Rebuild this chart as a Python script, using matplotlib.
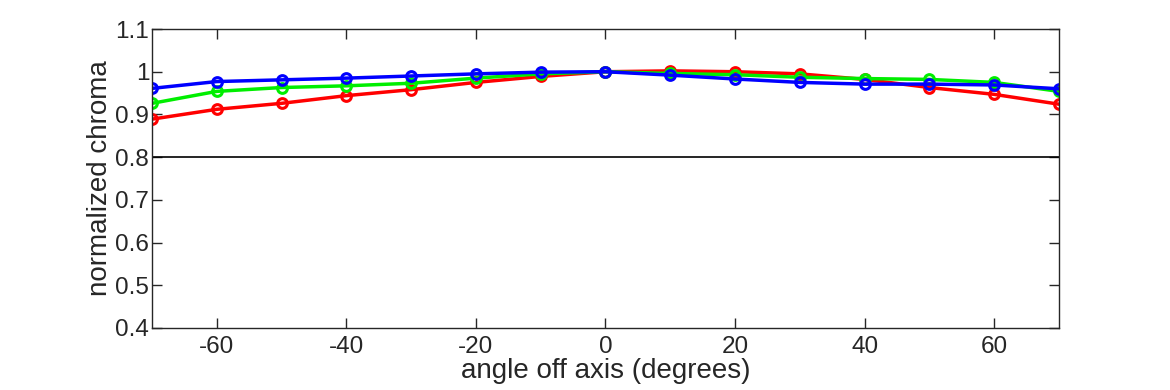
import matplotlib
matplotlib.use("Agg")
import matplotlib.pyplot as plt

angles = [-70, -60, -50, -40, -30, -20, -10, 0, 10, 20, 30, 40, 50, 60, 70]
red = [0.889, 0.912, 0.926, 0.944, 0.958, 0.975, 0.989, 1.0, 1.002, 1.0, 0.995, 0.982, 0.963, 0.947, 0.924]
green = [0.926, 0.954, 0.963, 0.967, 0.973, 0.985, 0.995, 1.0, 0.996, 0.993, 0.987, 0.984, 0.982, 0.975, 0.954]
blue = [0.961, 0.977, 0.981, 0.985, 0.990, 0.995, 0.999, 1.0, 0.992, 0.983, 0.975, 0.971, 0.971, 0.969, 0.960]
xticks = [-60, -40, -20, 0, 20, 40, 60]
yticks = [0.4, 0.5, 0.6, 0.7, 0.8, 0.9, 1.0, 1.1]
ytick_labels = ["0.4", "0.5", "0.6", "0.7", "0.8", "0.9", "1", "1.1"]
threshold = 0.8

plt.rcParams['font.family'] = ['Liberation Sans', 'DejaVu Sans']
fig = plt.figure(figsize=(11.7, 3.9), dpi=100)
ax = fig.add_axes([0.1299, 0.159, 0.7752, 0.7666])

ax.axhline(threshold, color='black', lw=1.2)
for vals, c in [(red, '#ff0000'), (green, '#00ee00'), (blue, '#0000ff')]:
    ax.plot(angles, vals, color=c, lw=2.5, marker='o', ms=7, mfc='none', mew=2.2)

ax.set_xlim(-70, 70)
ax.set_ylim(0.4, 1.1)
ax.set_xticks(xticks)
ax.set_xticklabels([str(t) for t in xticks])
ax.set_yticks(yticks)
ax.set_yticklabels(ytick_labels)
ax.tick_params(direction='in', length=7, width=1, labelsize=17.5, colors='#262626',
               top=True, right=True)
ax.tick_params(axis='x', pad=6)
ax.tick_params(axis='y', pad=2)
for s in ax.spines.values():
    s.set_color('#262626')
    s.set_linewidth(1)
ax.set_xlabel('angle off axis (degrees)', fontsize=20, color='#262626', labelpad=0)
ax.set_ylabel('normalized chroma', fontsize=20, color='#262626', labelpad=2)

fig.savefig('out.png', dpi=100)
